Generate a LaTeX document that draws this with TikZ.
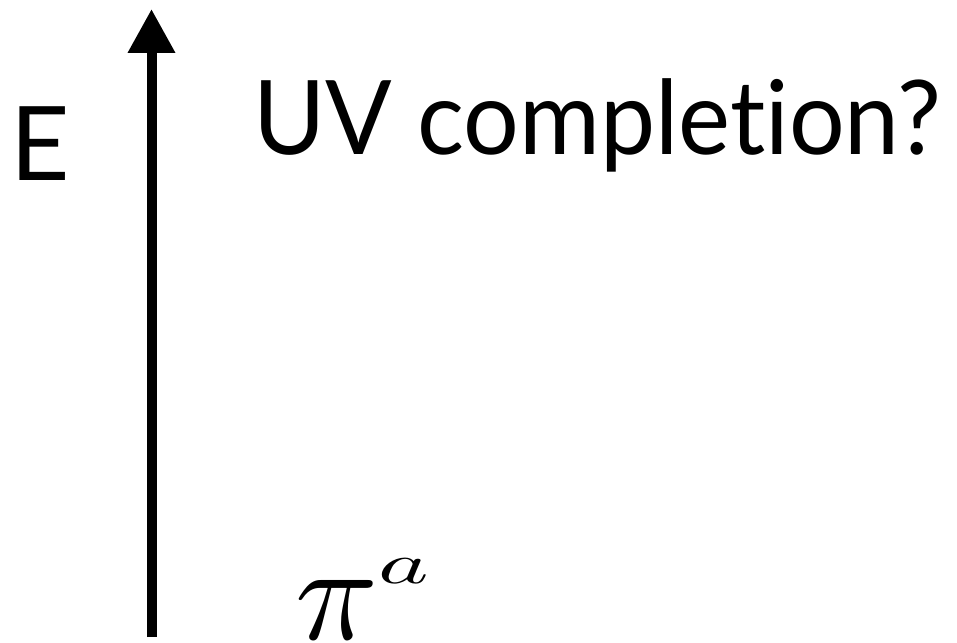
\documentclass[tikz,border=0pt]{standalone}
\usepackage{fontspec}
\setmainfont{Lato}[Ligatures={NoCommon}]
\usetikzlibrary{arrows.meta}
\tikzset{
  axisline/.style={line width=10pt, -{Triangle[width=45pt,length=44pt]}},
  bigtext/.style={anchor=base west, inner sep=0pt, font=\fontsize{103}{103}\selectfont},
  mathtext/.style={anchor=base west, inner sep=0pt}
}
\begin{document}
\begin{tikzpicture}[x=1pt,y=1pt]
\useasboundingbox (0,0) rectangle (957,642);
\coordinate (bot) at (151.5,5);
\coordinate (top) at (151.5,633);
\draw[axisline] (bot) -- (top);
\node[bigtext] (E) at (10,461) {E};
\node[bigtext] (uv) at (253,487) {\scalebox{0.955}[1]{UV completion?}};
\node[mathtext] (pi) at (295,2) {\scalebox{13.7}{$\pi^{\raisebox{0.5pt}{\scalebox{0.7}[0.42]{$a$}}}$}};
\end{tikzpicture}
\end{document}
